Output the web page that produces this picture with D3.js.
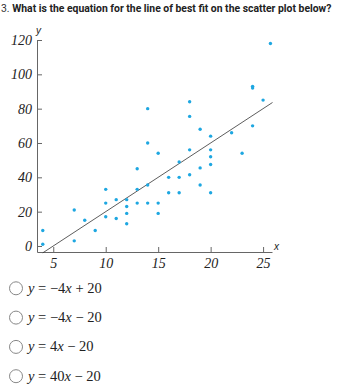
<!DOCTYPE html>
<html>
<head>
<meta charset="utf-8">
<script src="https://cdn.jsdelivr.net/npm/d3@7"></script>
<style>
  body { margin: 0; background: #fff; }
  svg { display: block; }
</style>
</head>
<body>
<svg id="chart" width="341" height="390"></svg>
<script>
// scatter data
const xs = [4, 4, 7, 7, 8, 9, 10, 10, 10, 11, 11, 12, 12, 12, 12, 13, 13, 13,
  14, 14, 14, 14, 15, 15, 15, 16, 16, 17, 17, 17, 18, 18, 18, 18, 19, 19, 19,
  20, 20, 20, 20, 20, 22, 23, 24, 24, 24, 25, 25.7]
const ys = [9, 1, 21, 3, 15, 9, 33, 25, 17, 27, 16, 27, 23, 19, 13, 45, 33, 25,
  80, 60, 35.5, 25, 54, 25, 19, 40, 31, 49, 40, 31, 84, 75.5, 56, 41.5, 68, 45.5, 35.5,
  64, 56, 52, 47.5, 31, 66, 54, 93, 70, 92, 85, 118]
const yTicks = [0, 20, 40, 60, 80, 100, 120]
const xTicks = [5, 10, 15, 20, 25]
// line of best fit y = 4x - 20
const fitSlope = 4
const fitIntercept = -20
const fitRange = [4, 25.9]
const choices = [
  ['−4', '+ 20'],
  ['−4', '− 20'],
  ['4', '− 20'],
  ['40', '− 20']
]

const svg = d3.select('#chart')

svg.append('text')
  .attr('x', 1)
  .attr('y', 12)
  .attr('font-family', 'Roboto')
  .attr('font-size', '10.4px')
  .attr('fill', '#333')
  .call(t => {
    t.append('tspan').text('3. ')
    t.append('tspan').attr('font-weight', 'bold').attr('fill', '#222')
      .text('What is the equation for the line of best fit on the scatter plot below?')
  })

const x = d3.scaleLinear().domain([3.45, 25.85]).range([37, 272])
const y = d3.scaleLinear().domain([-3.5, 120]).range([252, 40])

const axisColor = '#666'
const tickFont = 'Liberation Serif, Times New Roman, serif'

const xAxis = svg.append('g')
  .attr('transform', 'translate(0,252)')
  .call(d3.axisBottom(x).tickValues(xTicks).tickSizeInner(-5).tickSizeOuter(0).tickPadding(5))
xAxis.select('.domain').attr('stroke', axisColor)
xAxis.selectAll('.tick line').attr('stroke', axisColor)
xAxis.selectAll('.tick text')
  .attr('font-family', tickFont)
  .attr('font-style', 'italic')
  .attr('font-size', '14px')
  .attr('fill', '#222')
  .attr('dy', '0.8em')

const yAxis = svg.append('g')
  .attr('transform', 'translate(37,0)')
  .call(d3.axisLeft(y).tickValues(yTicks).tickSizeInner(-5).tickSizeOuter(0).tickPadding(5))
yAxis.select('.domain').attr('stroke', axisColor)
yAxis.selectAll('.tick line').attr('stroke', axisColor)
yAxis.selectAll('.tick text')
  .attr('font-family', tickFont)
  .attr('font-style', 'italic')
  .attr('font-size', '14px')
  .attr('fill', '#222')

svg.append('text')
  .attr('x', 36)
  .attr('y', 34)
  .attr('font-family', 'Liberation Sans')
  .attr('font-style', 'italic')
  .attr('font-size', '10px')
  .attr('fill', '#222')
  .text('y')

svg.append('text')
  .attr('x', 274)
  .attr('y', 250)
  .attr('font-family', 'Liberation Sans')
  .attr('font-style', 'italic')
  .attr('font-size', '10px')
  .attr('fill', '#222')
  .text('x')

svg.append('line')
  .attr('x1', x(fitRange[0]))
  .attr('y1', y(fitSlope * fitRange[0] + fitIntercept))
  .attr('x2', x(fitRange[1]))
  .attr('y2', y(fitSlope * fitRange[1] + fitIntercept))
  .attr('stroke', '#333')
  .attr('stroke-width', 0.8)

svg.append('g')
  .selectAll('circle')
  .data(xs.map((d, i) => [d, ys[i]]))
  .join('circle')
  .attr('cx', d => x(d[0]))
  .attr('cy', d => y(d[1]))
  .attr('r', 1.7)
  .attr('fill', '#1ea7e1')

const opts = svg.append('g')
  .selectAll('g')
  .data(choices)
  .join('g')
  .attr('transform', (d, i) => `translate(0,${288.3 + i * 29.3})`)

opts.append('circle')
  .attr('cx', 16)
  .attr('cy', 0)
  .attr('r', 6.5)
  .attr('fill', '#fff')
  .attr('stroke', '#888')
  .attr('stroke-width', 1)

opts.append('text')
  .attr('x', 28)
  .attr('y', 4.5)
  .attr('font-family', tickFont)
  .attr('font-size', '14.5px')
  .attr('fill', '#222')
  .call(t => {
    t.append('tspan').attr('font-style', 'italic').text('y')
    t.append('tspan').text(' = ')
    t.append('tspan').text(d => d[0])
    t.append('tspan').attr('font-style', 'italic').text('x')
    t.append('tspan').text(d => ' ' + d[1])
  })
</script>
</body>
</html>
